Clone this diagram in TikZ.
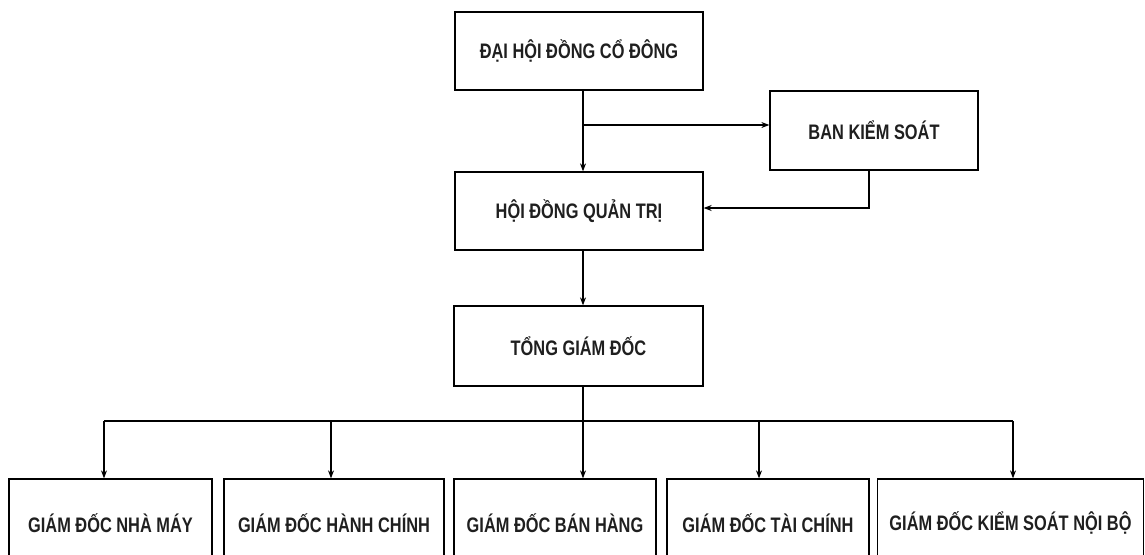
\documentclass[tikz,border=0pt]{standalone}
\usepackage{fontspec}
\setmainfont{Liberation Sans}[FakeStretch=0.78]
\usetikzlibrary{arrows.meta,calc}
\begin{document}
\begin{tikzpicture}[x=1pt,y=-1pt,
  box/.style={draw,line width=1.3pt,inner sep=0pt,font=\fontsize{21}{24}\selectfont\bfseries,text=black!88},
  conn/.style={line width=1.1pt},
  arr/.style={conn,-{Stealth[length=8pt,width=6pt]}}]
\useasboundingbox (0,0) rectangle (1145,554);
\clip (0,0) rectangle (1145,554);
\node[box,minimum width=248pt,minimum height=78pt] (dh) at (579,51) {ĐẠI HỘI ĐỒNG CỔ ĐÔNG};
\node[box,minimum width=208pt,minimum height=79pt] (bks) at (874,130.5) {BAN KIỂM SOÁT};
\node[box,minimum width=248pt,minimum height=78pt] (hd) at (579,211) {HỘI ĐỒNG QUẢN TRỊ};
\node[box,minimum width=249pt,minimum height=80pt] (tgd) at (578.5,346) {TỔNG GIÁM ĐỐC};
\node[box,minimum width=203pt,minimum height=88pt] (b1) at (110.5,523) {GIÁM ĐỐC NHÀ MÁY};
\node[box,minimum width=220pt,minimum height=88pt] (b2) at (334,523) {GIÁM ĐỐC HÀNH CHÍNH};
\node[box,minimum width=202pt,minimum height=88pt] (b3) at (555,523) {GIÁM ĐỐC BÁN HÀNG};
\node[box,minimum width=202pt,minimum height=88pt] (b4) at (768,523) {GIÁM ĐỐC TÀI CHÍNH};
\node[box,minimum width=266pt,minimum height=88pt] (b5) at (1010.5,523) {GIÁM ĐỐC KIỂM SOÁT NỘI BỘ};
\coordinate (br) at (583,125);
\coordinate (k) at (869,208);
\coordinate (bus) at (583,421);
\draw[arr] (dh.south -| br) -- (hd.north -| br);
\draw[arr] (br) -- (bks.west |- br);
\draw[arr] (bks.south -| k) -- (k) -- (hd.east |- k);
\draw[arr] (hd.south -| br) -- (tgd.north -| br);
\draw[conn] (tgd.south -| bus) -- (bus);
\draw[conn] (104,421) -- (1013,421);
\draw[arr] (104,421) -- (b1.north -| 104,0);
\draw[arr] (331,421) -- (b2.north -| 331,0);
\draw[arr] (583,421) -- (b3.north -| 583,0);
\draw[arr] (759,421) -- (b4.north -| 759,0);
\draw[arr] (1013,421) -- (b5.north -| 1013,0);
\end{tikzpicture}
\end{document}
